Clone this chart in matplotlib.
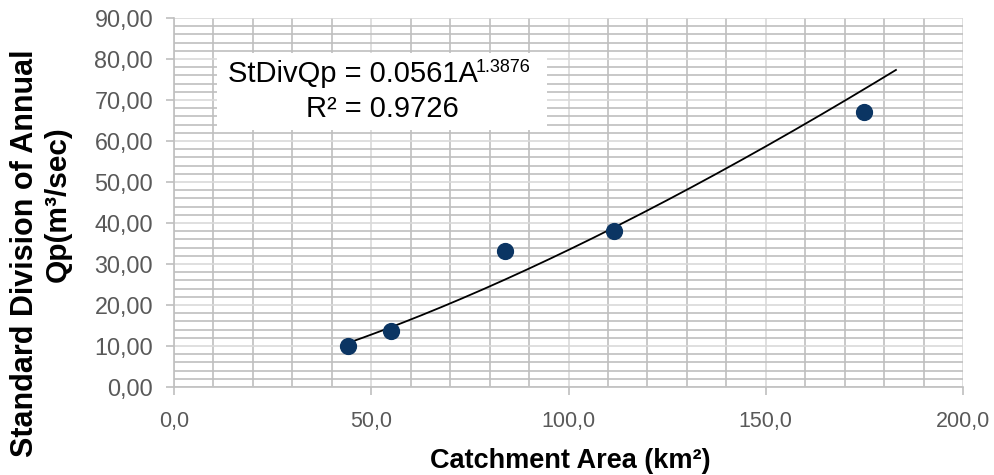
import numpy as np
import matplotlib.pyplot as plt
from matplotlib.patches import Rectangle
from matplotlib.ticker import MultipleLocator, FuncFormatter

plt.rcParams['font.family'] = ['Liberation Sans', 'DejaVu Sans']

# datos
area = [44.0, 55.1, 84.0, 111.6, 174.8]
st_div_qp = [10.1, 13.7, 33.2, 38.1, 67.1]

# linea de tendencia (potencia) dada en el grafico
coef_a = 0.0561
coef_b = 1.3876
r2 = 0.9726
x_fin = 183.0

W, H = 994, 475
fig = plt.figure(figsize=(W / 100, H / 100), dpi=100)
ax = fig.add_axes([174 / W, 1 - 387 / H, (963 - 174) / W, (387 - 18) / H])


def px(x, y):
    # pixeles (desde arriba a la izquierda) -> coordenadas de figura
    return x / W, 1 - y / H


ax.set_xlim(0, 200)
ax.set_ylim(0, 90)
ax.xaxis.set_major_locator(MultipleLocator(50))
ax.xaxis.set_minor_locator(MultipleLocator(10))
ax.yaxis.set_major_locator(MultipleLocator(10))
ax.yaxis.set_minor_locator(MultipleLocator(2))

ax.grid(which='major', color='#d9d9d9', linewidth=1.2)
ax.grid(which='minor', color='#bfbfbf', linewidth=1.2)
ax.set_axisbelow(True)

for s in ['top', 'right']:
    ax.spines[s].set_visible(False)
for s in ['left', 'bottom']:
    ax.spines[s].set_color('#bfbfbf')
    ax.spines[s].set_linewidth(1.2)

ax.tick_params(which='major', length=6, color='#bfbfbf', width=1.2,
               labelcolor='#595959')
ax.tick_params(which='minor', length=0)
ax.tick_params(axis='y', labelsize=16.8, pad=9)
ax.tick_params(axis='x', labelsize=15.5, pad=11)

ax.yaxis.set_major_formatter(FuncFormatter(lambda v, p: f'{v:.2f}'.replace('.', ',')))
ax.xaxis.set_major_formatter(FuncFormatter(lambda v, p: f'{v:.1f}'.replace('.', ',')))

xs = np.linspace(min(area), x_fin, 200)
ax.plot(xs, coef_a * xs ** coef_b, color='black', linewidth=1.3, zorder=3)

ax.scatter(area, st_div_qp, s=130, color='#0b3563', zorder=4)

# caja de la ecuacion
x0, y0 = px(217, 130)
x1, y1 = px(547, 53)
fig.add_artist(Rectangle((x0, y0), x1 - x0, y1 - y0, transform=fig.transFigure,
                         facecolor='white', edgecolor='none', zorder=2))
fig.text(*px(228, 82), f'StDivQp = {coef_a}A', fontsize=21,
         va='baseline', ha='left', zorder=3)
fig.text(*px(476, 72), f'{coef_b}', fontsize=13,
         va='baseline', ha='left', zorder=3)
fig.text(*px(382, 117), f'R² = {r2}', fontsize=21,
         va='baseline', ha='center', zorder=3)

# etiquetas de los ejes
fig.text(*px(570, 468), 'Catchment Area (km²)', fontsize=19.5,
         fontweight='bold', ha='center', va='baseline')
fig.text(*px(33, 253), 'Standard Division of Annual', fontsize=22,
         fontweight='bold', rotation=90, rotation_mode='anchor',
         ha='center', va='baseline')
fig.text(*px(66, 204), 'Qp(m³/sec)', fontsize=21.5,
         fontweight='bold', rotation=90, rotation_mode='anchor',
         ha='center', va='baseline')

plt.savefig('out.png')
